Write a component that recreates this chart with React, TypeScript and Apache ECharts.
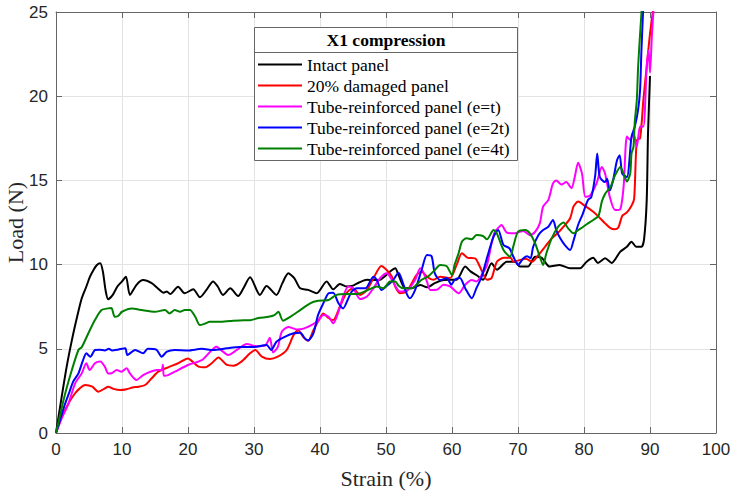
import React, { useEffect, useRef } from "react";
import * as echarts from "echarts";

const seriesNames = [
  "Intact panel",
  "20% damaged panel",
  "Tube-reinforced panel (e=t)",
  "Tube-reinforced panel (e=2t)",
  "Tube-reinforced panel (e=4t)",
];
const seriesColors = ["#000000", "#ff0000", "#ff00ff", "#0000ff", "#008000"];

const intactX = [0, 0.8, 1.6, 2.4, 3.2, 3.9, 4.6, 5.15, 5.7, 6.2, 6.7, 7.1, 7.5, 7.9, 8.6, 9.3, 10, 10.6, 11.2, 12.2, 13.2, 14.5, 15.4, 16.3, 16.8, 17.3, 18.5, 19.5, 20.8, 21.8, 22.8, 23.8, 24.5, 25.3, 26.4, 27.6, 28.4, 29.4, 30.9, 31.9, 33.4, 34.3, 35.2, 36.1, 37, 38.2, 39.5, 41, 42, 43, 44, 45, 46, 47.1, 48.1, 49.1, 50.6, 51.4, 51.9, 52.9, 53.9, 55.2, 56.2, 57.4, 58.7, 59.7, 60.7, 62, 62.8, 63.7, 64.7, 66, 66.8, 68.3, 69.6, 70.3, 71.5, 72.6, 73.6, 74.8, 76.3, 77.9, 79.4, 80.4, 81.4, 82.1, 83.2, 84.2, 85.5, 86.5, 87.2, 87.9, 88.7, 89.1, 89.5, 89.7, 90];
const intactY = [0, 2.0, 3.9, 5.5, 6.9, 8.0, 8.7, 9.28, 9.7, 9.98, 10.08, 9.6, 8.5, 7.94, 8.2, 8.7, 9.0, 9.28, 8.2, 8.8, 9.08, 8.9, 8.6, 8.33, 8.4, 8.25, 8.69, 8.3, 8.53, 8.06, 8.5, 9.0, 8.7, 8.2, 8.59, 8.14, 8.6, 9.25, 8.2, 8.73, 8.2, 8.9, 9.48, 9.2, 8.59, 8.5, 8.3, 9.0, 8.53, 8.85, 8.7, 8.75, 8.95, 9.1, 9.08, 9.1, 9.58, 9.78, 9.38, 8.59, 8.6, 8.79, 8.65, 8.9, 9.08, 9.1, 9.1, 9.88, 9.6, 9.38, 9.1, 10.08, 9.7, 10.17, 10.17, 9.88, 9.88, 10.47, 10.4, 9.88, 9.98, 9.78, 9.78, 10.17, 10.4, 10.1, 10.37, 10.1, 10.77, 11.06, 11.36, 11.06, 11.06, 11.5, 13.8, 17.8, 21.2];

const damagedX = [0, 0.7, 1.4, 2.1, 2.9, 3.6, 4.4, 5.5, 6.4, 7.4, 7.9, 8.7, 9.7, 10.7, 11.6, 12.5, 13.5, 14.5, 15.5, 17, 18.5, 20, 20.5, 21.6, 22.6, 23.6, 24.6, 25.9, 26.9, 28.1, 29.4, 30.2, 31.2, 32.4, 33.6, 34.95, 36, 36.7, 37.5, 38.2, 39, 39.8, 40.5, 41.3, 42, 43, 44, 45, 46.1, 47.1, 48.1, 49.3, 50.1, 50.9, 51.4, 52.1, 53.1, 53.9, 54.6, 55.4, 56.2, 57.2, 58.2, 59.7, 60.7, 61.5, 62.4, 63.5, 64.2, 65.3, 66, 66.8, 67.9, 68.9, 69.3, 70.1, 71.2, 72.1, 73.1, 74.1, 75.1, 76.1, 76.9, 77.9, 78.4, 79.1, 80.1, 81.4, 82.2, 83.2, 83.9, 84.6, 85.2, 85.8, 86.5, 87.2, 87.6, 88.0, 88.5, 89.0, 89.5, 90.0, 90.6];
const damagedY = [0, 0.8, 1.37, 1.9, 2.36, 2.65, 2.85, 2.75, 2.45, 2.65, 2.75, 2.62, 2.55, 2.6, 2.7, 2.75, 2.85, 3.25, 3.64, 3.9, 4.14, 4.43, 4.3, 3.94, 3.9, 4.14, 4.49, 4.04, 4.0, 4.24, 4.73, 4.93, 4.53, 4.39, 4.53, 4.93, 5.82, 6.1, 5.68, 5.48, 6.1, 6.7, 7.1, 6.83, 6.71, 7.5, 8.3, 8.6, 8.2, 8.49, 9.19, 9.92, 9.68, 9.28, 8.69, 8.3, 8.4, 8.89, 9.38, 9.58, 9.28, 9.1, 9.28, 9.2, 9.98, 10.67, 10.4, 10.37, 9.9, 9.1, 9.2, 10.17, 10.4, 10.4, 10.17, 10.25, 10.35, 10.17, 10.57, 11.06, 11.56, 11.9, 12.25, 12.75, 13.44, 13.74, 13.5, 13.14, 12.85, 12.45, 12.2, 12.1, 12.2, 12.9, 13.1, 13.5, 13.9, 17.4, 17.5, 19.8, 21.75, 23.7, 25.5];

const tubeTX = [0, 0.9, 1.9, 2.9, 3.9, 4.6, 5.1, 5.9, 6.7, 7.4, 7.9, 8.4, 9.2, 9.9, 10.7, 11.2, 12.2, 13.2, 14.3, 15.3, 16.0, 16.2, 16.35, 17.0, 18.0, 20.0, 22.1, 23.3, 24.3, 25.3, 26.1, 27.4, 28.9, 30.4, 31.7, 32.4, 32.9, 33.6, 34.2, 35.2, 36.5, 37.5, 38.7, 39.7, 40.5, 41.3, 42.0, 42.8, 43.5, 44.3, 45.0, 46.1, 47.1, 48.1, 49.1, 50.1, 50.9, 52.1, 53.3, 54.4, 55.2, 55.6, 56.2, 56.7, 57.7, 58.7, 59.7, 61.0, 62.0, 63.0, 63.7, 64.5, 65.3, 66.0, 66.5, 67.3, 67.5, 68.3, 69.5, 70.8, 71.8, 72.6, 73.3, 73.8, 74.6, 75.3, 75.8, 76.6, 77.3, 78.1, 78.6, 79.1, 79.7, 80.2, 80.9, 81.9, 82.7, 83.2, 83.9, 84.7, 85.5, 86.0, 86.5, 87.0, 87.5, 88.0, 88.5, 89.0, 89.5, 89.8, 90.0, 90.3, 90.6];
const tubeTY = [0, 0.9, 1.76, 2.95, 3.54, 4.14, 3.74, 4.14, 4.24, 3.94, 3.54, 3.55, 3.74, 3.64, 3.84, 3.54, 3.15, 3.44, 3.64, 3.74, 3.74, 4.05, 3.4, 3.44, 3.64, 4.04, 4.33, 4.8, 5.12, 4.83, 4.63, 4.93, 5.28, 5.15, 5.2, 5.65, 4.78, 5.1, 6.0, 6.3, 6.15, 6.2, 6.41, 6.65, 7.0, 6.9, 6.51, 7.2, 8.1, 8.7, 8.6, 7.95, 8.1, 8.6, 9.19, 9.48, 9.1, 8.4, 8.5, 9.08, 9.78, 9.6, 9.0, 8.49, 8.5, 8.8, 8.7, 8.3, 8.8, 9.08, 9.0, 9.38, 9.98, 11.26, 11.95, 12.3, 12.35, 11.9, 11.86, 12.0, 11.75, 11.95, 12.45, 13.44, 13.84, 14.82, 15.0, 14.75, 14.9, 14.53, 15.2, 16.05, 15.4, 14.03, 14.1, 14.82, 15.8, 15.4, 14.03, 13.24, 13.3, 14.63, 17.6, 17.4, 17.8, 17.0, 18.2, 18.2, 21.75, 22.7, 21.4, 23.7, 25.5];

const tube2tX = [0, 0.7, 1.4, 2.0, 2.6, 3.4, 4.1, 4.6, 5.2, 5.9, 6.6, 7.4, 8.0, 8.5, 9.4, 10.5, 10.8, 12.0, 13.2, 13.9, 15.2, 16.0, 16.8, 18.0, 20.0, 22.1, 23.8, 25.9, 27.9, 29.9, 31.9, 32.6, 33.4, 34.5, 36.0, 37.0, 37.7, 38.2, 39.0, 39.7, 40.5, 41.3, 42.0, 42.8, 43.5, 44.3, 44.8, 45.6, 46.9, 48.1, 48.6, 49.3, 50.3, 51.1, 51.9, 52.4, 53.1, 53.6, 54.4, 55.4, 56.2, 56.9, 57.4, 58.2, 59.2, 59.9, 60.4, 61.2, 62.0, 63.0, 63.7, 64.5, 65.3, 66.3, 67.0, 67.8, 68.7, 69.3, 70.0, 70.8, 71.4, 71.9, 72.3, 73.1, 73.8, 74.6, 75.3, 75.8, 76.4, 77.1, 77.9, 78.4, 79.1, 79.8, 80.6, 81.1, 81.7, 82.0, 82.4, 83.2, 83.5, 83.9, 84.4, 85.0, 85.4, 85.8, 86.5, 87.2, 87.7, 88.2, 88.5, 88.7, 89.0];
const tube2tY = [0, 0.9, 1.76, 2.4, 3.05, 3.54, 4.33, 4.73, 4.53, 4.93, 4.95, 4.9, 5.0, 4.9, 4.95, 5.03, 4.63, 4.93, 4.73, 5.0, 4.95, 4.53, 4.83, 4.93, 4.9, 5.0, 4.93, 5.03, 5.1, 5.1, 5.23, 4.93, 5.42, 5.68, 5.92, 5.95, 5.62, 5.5, 5.92, 7.0, 7.7, 8.3, 8.33, 7.7, 7.4, 8.0, 8.4, 8.6, 8.6, 9.28, 9.1, 8.49, 8.8, 9.08, 9.52, 9.1, 8.3, 8.0, 8.49, 9.68, 10.57, 10.5, 9.48, 9.08, 9.2, 8.8, 9.1, 9.2, 8.6, 8.0, 8.6, 9.28, 10.4, 11.66, 12.05, 11.16, 10.97, 10.47, 9.98, 10.37, 10.5, 10.37, 11.06, 11.76, 12.05, 12.25, 12.65, 12.05, 11.56, 11.16, 10.87, 11.4, 12.35, 13.0, 13.84, 14.0, 15.3, 16.6, 15.2, 14.9, 15.1, 14.4, 15.0, 16.2, 16.5, 15.4, 15.2, 17.6, 18.2, 19.2, 20.4, 22.7, 25.5];

const tube4tX = [0, 0.7, 1.4, 2.4, 3.4, 3.9, 4.9, 5.9, 6.9, 7.9, 8.4, 8.9, 9.4, 10.0, 11.5, 13.0, 15.0, 16.5, 17.2, 18.0, 18.8, 19.5, 20.3, 21.1, 21.8, 22.6, 23.3, 24.8, 26.4, 28.4, 29.4, 30.7, 32.2, 33.1, 33.7, 34.4, 35.5, 37.0, 38.5, 39.7, 41.3, 42.5, 44.0, 45.6, 47.6, 48.6, 49.6, 50.6, 51.4, 51.9, 52.6, 53.9, 54.6, 55.4, 56.4, 57.4, 58.2, 59.2, 60.0, 60.4, 61.0, 61.5, 62.2, 63.0, 63.7, 64.7, 65.3, 66.3, 66.8, 67.8, 68.8, 69.3, 70.0, 71.1, 71.8, 72.6, 73.3, 73.8, 74.3, 75.1, 76.1, 76.9, 77.6, 78.4, 79.1, 79.9, 80.6, 81.4, 82.2, 82.7, 83.2, 84.0, 84.7, 85.5, 86.0, 86.5, 87.0, 87.2, 87.5, 87.7, 88.0, 88.2, 88.5, 88.8];
const tube4tY = [0, 1.2, 2.36, 3.74, 4.93, 5.1, 5.92, 6.71, 7.3, 7.4, 7.42, 6.9, 6.95, 7.2, 7.4, 7.3, 7.2, 7.3, 7.1, 7.3, 7.2, 7.3, 7.3, 6.9, 6.41, 6.5, 6.6, 6.6, 6.65, 6.7, 6.7, 6.83, 6.9, 7.0, 7.2, 6.67, 6.9, 7.3, 7.7, 7.85, 7.9, 8.2, 8.25, 8.25, 8.55, 8.7, 8.6, 8.99, 9.0, 8.75, 8.6, 8.6, 8.8, 9.1, 9.3, 9.68, 9.98, 9.9, 9.38, 10.0, 10.67, 11.36, 11.56, 11.5, 11.76, 11.7, 11.5, 12.05, 11.85, 10.87, 10.47, 11.1, 11.95, 12.05, 11.85, 11.26, 10.47, 9.98, 10.67, 11.56, 12.25, 12.5, 12.15, 11.86, 12.05, 12.25, 12.45, 12.65, 12.9, 13.74, 14.2, 14.6, 15.3, 15.8, 15.4, 14.93, 15.4, 16.6, 17.0, 18.5, 19.77, 21.75, 23.7, 25.5];

const xTicks = [0, 10, 20, 30, 40, 50, 60, 70, 80, 90, 100];
const yTicks = [0, 5, 10, 15, 20, 25];
const legendTitle = "X1 compression";
const xTitle = "Strain (%)";
const yTitle = "Load (N)";

const allX = [intactX, damagedX, tubeTX, tube2tX, tube4tX];
const allY = [intactY, damagedY, tubeTY, tube2tY, tube4tY];

const SERIF = "'Liberation Serif', 'Times New Roman', serif";
const SANS = "'Liberation Sans', Arial, sans-serif";
const AXIS_COLOR = "#666666";
const GRID_COLOR = "#e3e3e3";

export default function App() {
  const ref = useRef<HTMLDivElement>(null);
  useEffect(() => {
    if (!ref.current) return;
    const chart = echarts.init(ref.current, undefined, { renderer: "svg" });
    const commonTick = { show: true, inside: true, length: 6, lineStyle: { color: AXIS_COLOR } };
    const option: any = {
      animation: false,
      backgroundColor: "#ffffff",
      grid: { left: 56, right: 19, top: 12, bottom: 58, containLabel: false, outerBoundsMode: "none" },
      xAxis: [
        {
          type: "value",
          position: "bottom",
          min: xTicks[0],
          max: xTicks[xTicks.length - 1],
          interval: xTicks[1] - xTicks[0],
          name: xTitle,
          nameLocation: "middle",
          nameGap: 34,
          nameTextStyle: { fontFamily: SERIF, fontSize: 22, color: "#262626" },
          axisLine: { show: true, onZero: false, lineStyle: { color: AXIS_COLOR } },
          axisTick: commonTick,
          axisLabel: { fontFamily: SANS, fontSize: 17, color: "#262626", margin: 8 },
          splitLine: { show: true, lineStyle: { color: GRID_COLOR, width: 1 } },
        },
        {
          type: "value",
          position: "top",
          min: xTicks[0],
          max: xTicks[xTicks.length - 1],
          interval: xTicks[1] - xTicks[0],
          axisLine: { show: true, onZero: false, lineStyle: { color: AXIS_COLOR } },
          axisTick: commonTick,
          axisLabel: { show: false },
          splitLine: { show: false },
        },
      ],
      yAxis: [
        {
          type: "value",
          position: "left",
          min: yTicks[0],
          max: yTicks[yTicks.length - 1],
          interval: yTicks[1] - yTicks[0],
          name: yTitle,
          nameLocation: "middle",
          nameGap: 30,
          nameMoveOverlap: false,
          nameTextStyle: { fontFamily: SERIF, fontSize: 22, color: "#262626" },
          axisLine: { show: true, onZero: false, lineStyle: { color: AXIS_COLOR } },
          axisTick: commonTick,
          axisLabel: { fontFamily: SANS, fontSize: 17, color: "#262626", margin: 8 },
          splitLine: { show: true, lineStyle: { color: GRID_COLOR, width: 1 } },
        },
        {
          type: "value",
          position: "right",
          min: yTicks[0],
          max: yTicks[yTicks.length - 1],
          interval: yTicks[1] - yTicks[0],
          axisLine: { show: true, onZero: false, lineStyle: { color: AXIS_COLOR } },
          axisTick: commonTick,
          axisLabel: { show: false },
          splitLine: { show: false },
        },
      ],
      legend: {
        show: true,
        orient: "vertical",
        left: 258,
        top: 54,
        padding: 0,
        icon: "rect",
        itemWidth: 44,
        itemHeight: 2,
        itemGap: 0,
        z: 20,
        data: seriesNames,
        textStyle: { fontFamily: SERIF, fontSize: 17.5, color: "#000000", lineHeight: 21 },
      },
      graphic: [
        {
          type: "rect",
          z: 10,
          shape: { x: 254.5, y: 27.5, width: 263, height: 133 },
          style: { fill: "#ffffff", stroke: AXIS_COLOR, lineWidth: 1 },
        },
        {
          type: "line",
          z: 11,
          shape: { x1: 254.5, y1: 52.5, x2: 517.5, y2: 52.5 },
          style: { stroke: AXIS_COLOR, lineWidth: 1 },
        },
        {
          type: "text",
          z: 11,
          x: 386,
          y: 40,
          style: {
            text: legendTitle,
            fontFamily: SERIF,
            fontSize: 17.5,
            fontWeight: "bold",
            fill: "#000000",
            align: "center",
            verticalAlign: "middle",
          },
        },
      ],
      series: seriesNames.map((name, i) => ({
        name,
        type: "line",
        xAxisIndex: 0,
        yAxisIndex: 0,
        showSymbol: false,
        symbol: "none",
        clip: true,
        smooth: 0.25,
        lineStyle: { color: seriesColors[i], width: 2 },
        itemStyle: { color: seriesColors[i] },
        data: allX[i].map((x, j) => [x, allY[i][j]]),
      })),
    };
    chart.setOption(option);
    return () => chart.dispose();
  }, []);
  return <div ref={ref} style={{ width: 735, height: 491, position: "absolute", left: 0, top: 0 }} />;
}
